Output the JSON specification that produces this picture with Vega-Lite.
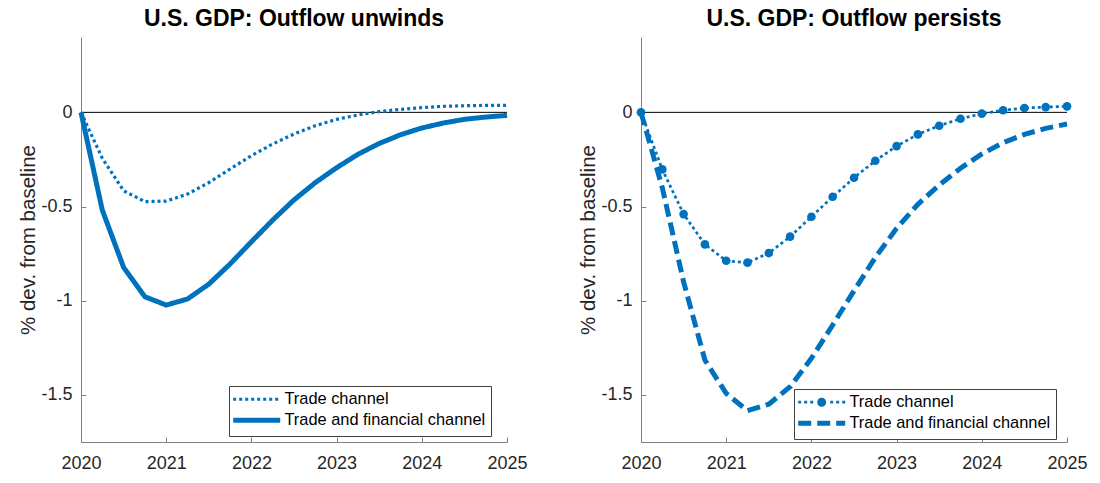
{
  "$schema": "https://vega.github.io/schema/vega-lite/v6.json",
  "padding": {"left": 18, "top": 8, "right": 5, "bottom": 5},
  "background": "white",
  "spacing": 50,
  "resolve": {"scale": {"strokeDash": "independent"}, "legend": {"strokeDash": "independent"}},
  "config": {
    "font": "Liberation Sans",
    "view": {"stroke": null},
    "axis": {
      "grid": false,
      "domainColor": "#808080",
      "tickColor": "#808080",
      "labelColor": "#262626",
      "titleColor": "#262626",
      "labelFontSize": 18,
      "titleFontSize": 20.5,
      "titleFontWeight": "normal",
      "tickSize": -5,
      "domainWidth": 1,
      "tickWidth": 1,
      "labelFlush": false
    },
    "title": {"fontSize": 23, "fontWeight": "bold", "color": "#000000"},
    "legend": {
      "symbolType": "M0,0H9.4",
      "symbolSize": 100,
      "symbolStrokeColor": "#0072BD",
      "symbolFillColor": "transparent",
      "symbolStrokeWidth": 3,
      "symbolOffset": -9,
      "labelFontSize": 16.4,
      "labelColor": "#000000",
      "labelLimit": 400,
      "padding": 5,
      "rowPadding": 2,
      "labelOffset": 43,
      "strokeColor": "#404040",
      "fillColor": "white"
    }
  },
  "datasets": {
    "unwinds": [
      {"year": 2020.00, "series": "Trade channel", "value": 0},
      {"year": 2020.25, "series": "Trade channel", "value": -0.244},
      {"year": 2020.50, "series": "Trade channel", "value": -0.416},
      {"year": 2020.75, "series": "Trade channel", "value": -0.474},
      {"year": 2021.00, "series": "Trade channel", "value": -0.471},
      {"year": 2021.25, "series": "Trade channel", "value": -0.434},
      {"year": 2021.50, "series": "Trade channel", "value": -0.373},
      {"year": 2021.75, "series": "Trade channel", "value": -0.301},
      {"year": 2022.00, "series": "Trade channel", "value": -0.230},
      {"year": 2022.25, "series": "Trade channel", "value": -0.168},
      {"year": 2022.50, "series": "Trade channel", "value": -0.115},
      {"year": 2022.75, "series": "Trade channel", "value": -0.071},
      {"year": 2023.00, "series": "Trade channel", "value": -0.037},
      {"year": 2023.25, "series": "Trade channel", "value": -0.014},
      {"year": 2023.50, "series": "Trade channel", "value": 0.004},
      {"year": 2023.75, "series": "Trade channel", "value": 0.016},
      {"year": 2024.00, "series": "Trade channel", "value": 0.025},
      {"year": 2024.25, "series": "Trade channel", "value": 0.032},
      {"year": 2024.50, "series": "Trade channel", "value": 0.035},
      {"year": 2024.75, "series": "Trade channel", "value": 0.037},
      {"year": 2025.00, "series": "Trade channel", "value": 0.037},
      {"year": 2020.00, "series": "Trade and financial channel", "value": 0},
      {"year": 2020.25, "series": "Trade and financial channel", "value": -0.519},
      {"year": 2020.50, "series": "Trade and financial channel", "value": -0.823},
      {"year": 2020.75, "series": "Trade and financial channel", "value": -0.979},
      {"year": 2021.00, "series": "Trade and financial channel", "value": -1.023},
      {"year": 2021.25, "series": "Trade and financial channel", "value": -0.991},
      {"year": 2021.50, "series": "Trade and financial channel", "value": -0.912},
      {"year": 2021.75, "series": "Trade and financial channel", "value": -0.805},
      {"year": 2022.00, "series": "Trade and financial channel", "value": -0.687},
      {"year": 2022.25, "series": "Trade and financial channel", "value": -0.572},
      {"year": 2022.50, "series": "Trade and financial channel", "value": -0.465},
      {"year": 2022.75, "series": "Trade and financial channel", "value": -0.373},
      {"year": 2023.00, "series": "Trade and financial channel", "value": -0.294},
      {"year": 2023.25, "series": "Trade and financial channel", "value": -0.223},
      {"year": 2023.50, "series": "Trade and financial channel", "value": -0.165},
      {"year": 2023.75, "series": "Trade and financial channel", "value": -0.119},
      {"year": 2024.00, "series": "Trade and financial channel", "value": -0.083},
      {"year": 2024.25, "series": "Trade and financial channel", "value": -0.057},
      {"year": 2024.50, "series": "Trade and financial channel", "value": -0.037},
      {"year": 2024.75, "series": "Trade and financial channel", "value": -0.025},
      {"year": 2025.00, "series": "Trade and financial channel", "value": -0.016}
    ],
    "persists": [
      {"year": 2020.00, "series": "Trade channel", "value": 0},
      {"year": 2020.25, "series": "Trade channel", "value": -0.303},
      {"year": 2020.50, "series": "Trade channel", "value": -0.540},
      {"year": 2020.75, "series": "Trade channel", "value": -0.701},
      {"year": 2021.00, "series": "Trade channel", "value": -0.788},
      {"year": 2021.25, "series": "Trade channel", "value": -0.798},
      {"year": 2021.50, "series": "Trade channel", "value": -0.747},
      {"year": 2021.75, "series": "Trade channel", "value": -0.660},
      {"year": 2022.00, "series": "Trade channel", "value": -0.554},
      {"year": 2022.25, "series": "Trade channel", "value": -0.448},
      {"year": 2022.50, "series": "Trade channel", "value": -0.347},
      {"year": 2022.75, "series": "Trade channel", "value": -0.257},
      {"year": 2023.00, "series": "Trade channel", "value": -0.179},
      {"year": 2023.25, "series": "Trade channel", "value": -0.117},
      {"year": 2023.50, "series": "Trade channel", "value": -0.071},
      {"year": 2023.75, "series": "Trade channel", "value": -0.034},
      {"year": 2024.00, "series": "Trade channel", "value": -0.007},
      {"year": 2024.25, "series": "Trade channel", "value": 0.011},
      {"year": 2024.50, "series": "Trade channel", "value": 0.023},
      {"year": 2024.75, "series": "Trade channel", "value": 0.028},
      {"year": 2025.00, "series": "Trade channel", "value": 0.032},
      {"year": 2020.00, "series": "Trade and financial channel", "value": 0},
      {"year": 2020.25, "series": "Trade and financial channel", "value": -0.400},
      {"year": 2020.50, "series": "Trade and financial channel", "value": -0.900},
      {"year": 2020.75, "series": "Trade and financial channel", "value": -1.315},
      {"year": 2021.00, "series": "Trade and financial channel", "value": -1.492},
      {"year": 2021.25, "series": "Trade and financial channel", "value": -1.584},
      {"year": 2021.50, "series": "Trade and financial channel", "value": -1.549},
      {"year": 2021.75, "series": "Trade and financial channel", "value": -1.457},
      {"year": 2022.00, "series": "Trade and financial channel", "value": -1.306},
      {"year": 2022.25, "series": "Trade and financial channel", "value": -1.129},
      {"year": 2022.50, "series": "Trade and financial channel", "value": -0.947},
      {"year": 2022.75, "series": "Trade and financial channel", "value": -0.770},
      {"year": 2023.00, "series": "Trade and financial channel", "value": -0.616},
      {"year": 2023.25, "series": "Trade and financial channel", "value": -0.488},
      {"year": 2023.50, "series": "Trade and financial channel", "value": -0.386},
      {"year": 2023.75, "series": "Trade and financial channel", "value": -0.297},
      {"year": 2024.00, "series": "Trade and financial channel", "value": -0.221},
      {"year": 2024.25, "series": "Trade and financial channel", "value": -0.161},
      {"year": 2024.50, "series": "Trade and financial channel", "value": -0.117},
      {"year": 2024.75, "series": "Trade and financial channel", "value": -0.085},
      {"year": 2025.00, "series": "Trade and financial channel", "value": -0.062}
    ]
  },
  "hconcat": [
    {
      "width": 426,
      "height": 405,
      "title": {"text": "U.S. GDP: Outflow unwinds", "anchor": "middle", "frame": "group", "baseline": "alphabetic", "offset": -12},
      "data": {"name": "unwinds"},
      "encoding": {
        "x": {"field": "year", "type": "quantitative", "scale": {"domain": [2020, 2025], "nice": false, "zero": false}, "axis": {"values": [2020, 2021, 2022, 2023, 2024, 2025], "format": "d", "title": null, "labelPadding": 17}},
        "y": {"field": "value", "type": "quantitative", "scale": {"domain": [-1.75, 0.4], "nice": false, "zero": false}, "axis": {"values": [0, -0.5, -1, -1.5], "labelExpr": "'' + datum.value", "title": "% dev. from baseline", "labelPadding": 14, "titlePadding": 2}}
      },
      "layer": [
        {
          "data": {"values": [{"value": 0}]},
          "mark": {"type": "rule", "color": "#000000", "strokeWidth": 1},
          "encoding": {"x": null}
        },
        {
          "transform": [{"filter": "datum.series === 'Trade channel'"}],
          "mark": {"type": "line", "color": "#0072BD", "strokeWidth": 3.2, "strokeCap": "butt"},
          "encoding": {
            "strokeDash": {"field": "series", "type": "nominal", "scale": {"domain": ["Trade channel", "Trade and financial channel"], "range": [[3, 3], [1, 0]]},
              "legend": {"title": null, "orient": "none", "legendX": 148, "legendY": 349,
                "encode": {"symbols": {"update": {
                  "stroke": {"value": "#0072BD"},
                  "strokeWidth": {"signal": "datum.value === 'Trade channel' ? 3 : 5"}
                }}}}}
          }
        },
        {
          "transform": [{"filter": "datum.series === 'Trade and financial channel'"}],
          "mark": {"type": "line", "color": "#0072BD", "strokeWidth": 5, "strokeCap": "butt"},
          "encoding": {
            "strokeDash": {"field": "series", "type": "nominal"}
          }
        }
      ]
    },
    {
      "width": 426,
      "height": 405,
      "title": {"text": "U.S. GDP: Outflow persists", "anchor": "middle", "frame": "group", "baseline": "alphabetic", "offset": -12},
      "data": {"name": "persists"},
      "encoding": {
        "x": {"field": "year", "type": "quantitative", "scale": {"domain": [2020, 2025], "nice": false, "zero": false}, "axis": {"values": [2020, 2021, 2022, 2023, 2024, 2025], "format": "d", "title": null, "labelPadding": 17}},
        "y": {"field": "value", "type": "quantitative", "scale": {"domain": [-1.75, 0.4], "nice": false, "zero": false}, "axis": {"values": [0, -0.5, -1, -1.5], "labelExpr": "'' + datum.value", "title": "% dev. from baseline", "labelPadding": 14, "titlePadding": 2}}
      },
      "layer": [
        {
          "data": {"values": [{"value": 0}]},
          "mark": {"type": "rule", "color": "#000000", "strokeWidth": 1},
          "encoding": {"x": null}
        },
        {
          "transform": [{"filter": "datum.series === 'Trade and financial channel'"}],
          "mark": {"type": "line", "color": "#0072BD", "strokeWidth": 5, "strokeCap": "butt"},
          "encoding": {
            "strokeDash": {"field": "series", "type": "nominal", "scale": {"domain": ["Trade channel", "Trade and financial channel"], "range": [[3, 3], [13, 6]]},
              "legend": {"title": null, "orient": "none", "legendX": 153, "legendY": 352,
                "encode": {"symbols": {"update": {
                  "shape": {"signal": "datum.value === 'Trade channel' ? 'M0,-0.27H0.6V0.27H0Z M1.2,-0.27H1.8V0.27H1.2Z M2.4,-0.27H3V0.27H2.4Z M6.4,-0.27H7V0.27H6.4Z M7.6,-0.27H8.2V0.27H7.6Z M8.8,-0.27H9.4V0.27H8.8Z M3.8,0A0.9,0.9,0,1,0,5.6,0A0.9,0.9,0,1,0,3.8,0Z' : 'M0,0H9.4'"},
                  "fill": {"signal": "datum.value === 'Trade channel' ? '#0072BD' : 'transparent'"},
                  "stroke": {"value": "#0072BD"},
                  "opacity": {"value": 1},
                  "strokeDash": {"signal": "datum.value === 'Trade channel' ? [1, 0] : [13, 6]"},
                  "strokeWidth": {"signal": "datum.value === 'Trade channel' ? 0 : 5"}
                }}}}}
          }
        },
        {
          "transform": [{"filter": "datum.series === 'Trade channel'"}],
          "mark": {"type": "line", "color": "#0072BD", "strokeWidth": 2.7, "strokeCap": "butt"},
          "encoding": {
            "strokeDash": {"field": "series", "type": "nominal"}
          }
        },
        {
          "transform": [{"filter": "datum.series === 'Trade channel'"}],
          "mark": {"type": "point", "filled": true, "color": "#0072BD", "size": 75, "opacity": 1, "shape": "circle"},
          "encoding": {}
        }
      ]
    }
  ]
}
